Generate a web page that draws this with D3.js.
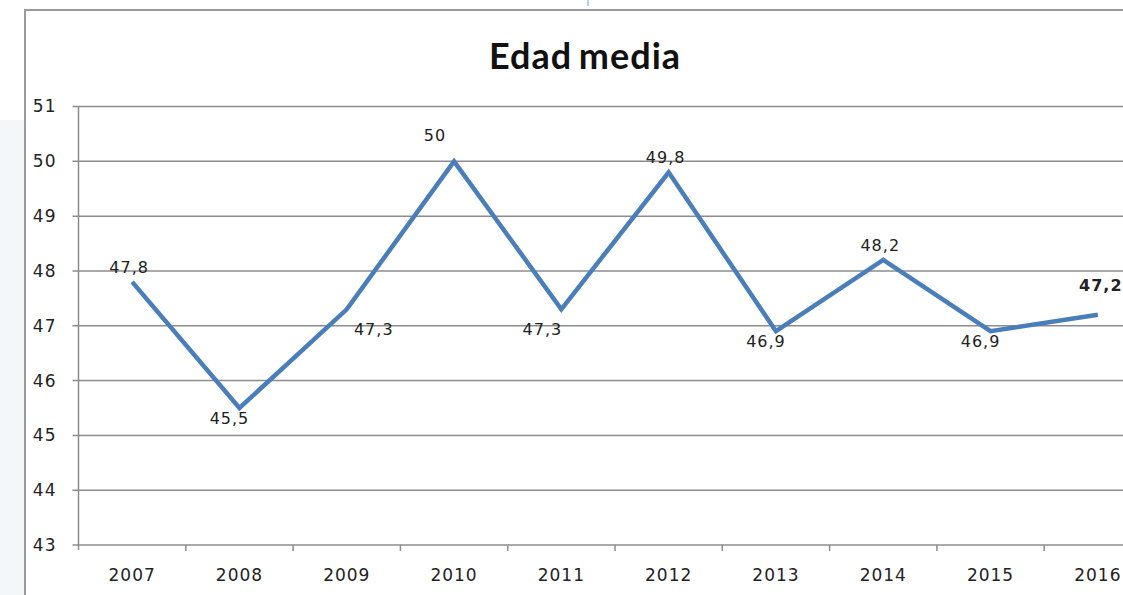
<!DOCTYPE html>
<html>
<head>
<meta charset="utf-8">
<script src="https://cdn.jsdelivr.net/npm/d3@7"></script>
<style>
  body { margin: 0; background: #fff; }
  svg { display: block; }
</style>
</head>
<body>
<svg id="canvas" width="1123" height="595"></svg>
<script>
/********** Data *********/
var years = ["2007", "2008", "2009", "2010", "2011", "2012", "2013", "2014", "2015", "2016"];
var edad = [47.8, 45.5, 47.3, 50, 47.3, 49.8, 46.9, 48.2, 46.9, 47.2];
var yTicks = [43, 44, 45, 46, 47, 48, 49, 50, 51];
// where each value label sits relative to its point
var labelSide = ["above", "below", "belowRight", "aboveLeft", "belowLeft", "above", "below", "above", "below", "aboveBold"];

/********** Initialisation *********/
var svg = d3.select("#canvas");
var width = +svg.attr("width");
var height = +svg.attr("height");

var left = 78.5, bw = 107.3;
var x = d3.scaleBand()
    .domain(years)
    .range([left, left + bw * years.length]);
var y = d3.scaleLinear()
    .domain([43, 51])
    .range([545, 106.5]);

// pale strip outside the chart frame
svg.append("rect")
    .attr("x", 0).attr("y", 120)
    .attr("width", 24).attr("height", height - 120)
    .attr("fill", "#f3f7fa");
svg.append("line")
    .attr("x1", 588).attr("x2", 588)
    .attr("y1", 0).attr("y2", 6)
    .attr("stroke", "#9cc3e6").attr("stroke-width", 1.5);

// chart frame
svg.append("rect")
    .attr("x", 25).attr("y", 10)
    .attr("width", width + 10).attr("height", height + 10)
    .attr("fill", "none")
    .attr("stroke", "#9a9a9a")
    .attr("stroke-width", 2);

/********** Title *********/
svg.append("text")
    .attr("x", 585).attr("y", 69)
    .attr("text-anchor", "middle")
    .attr("font-family", "Lato, 'Open Sans', sans-serif")
    .attr("font-weight", "bold")
    .attr("font-size", 36)
    .attr("letter-spacing", 1)
    .attr("word-spacing", -3)
    .attr("fill", "#111")
    .text("Edad media");

/********** Axes *********/
var grid = svg.append("g");
grid.selectAll("line")
    .data(yTicks)
    .enter()
    .append("line")
    .attr("x1", left - 6)
    .attr("x2", width)
    .attr("y1", function(d) { return y(d); })
    .attr("y2", function(d) { return y(d); })
    .attr("stroke", "#8c8c8c")
    .attr("stroke-width", 1.5);

svg.append("line")
    .attr("x1", left).attr("x2", left)
    .attr("y1", y(51)).attr("y2", y(43) + 5)
    .attr("stroke", "#8c8c8c").attr("stroke-width", 1.5);

var yAxis = svg.append("g")
    .attr("transform", "translate(" + (left - 8) + ",0)")
    .call(d3.axisLeft(y).tickValues(yTicks).tickSize(0).tickPadding(14));
yAxis.select(".domain").remove();

var xAxis = svg.append("g")
    .attr("transform", "translate(0," + y(43) + ")")
    .call(d3.axisBottom(x).tickSize(0).tickPadding(24));
xAxis.select(".domain").remove();

// ticks between categories
svg.append("g").selectAll("line")
    .data(years.slice(1))
    .enter()
    .append("line")
    .attr("x1", function(d) { return x(d); })
    .attr("x2", function(d) { return x(d); })
    .attr("y1", y(43)).attr("y2", y(43) + 6)
    .attr("stroke", "#8c8c8c").attr("stroke-width", 1.5);

svg.selectAll(".tick text")
    .attr("font-family", "'DejaVu Sans', sans-serif")
    .attr("font-size", 17)
    .attr("letter-spacing", 1)
    .attr("fill", "#222");

/********** Line *********/
var points = years.map(function(d, i) { return { year: d, v: edad[i], side: labelSide[i] }; });

var line = d3.line()
    .x(function(d) { return x(d.year) + x.bandwidth() / 2; })
    .y(function(d) { return y(d.v); });

svg.append("path")
    .datum(points)
    .attr("d", line)
    .attr("fill", "none")
    .attr("stroke", "#4a7ebb")
    .attr("stroke-width", 4.5)
    .attr("stroke-linejoin", "miter");

/********** Value labels *********/
var offsets = {
    above:      [-3, -9],
    below:      [-10, 16],
    belowRight: [27, 26],
    aboveLeft:  [-19, -20],
    belowLeft:  [-19, 26],
    aboveBold:  [3, -24]
};

svg.append("g").selectAll("text")
    .data(points)
    .enter()
    .append("text")
    .attr("x", function(d) { return x(d.year) + x.bandwidth() / 2 + offsets[d.side][0]; })
    .attr("y", function(d) { return y(d.v) + offsets[d.side][1]; })
    .attr("text-anchor", "middle")
    .attr("font-family", "'DejaVu Sans', sans-serif")
    .attr("font-size", 16)
    .attr("letter-spacing", 1)
    .attr("font-weight", function(d) { return d.side == "aboveBold" ? "bold" : "normal"; })
    .attr("fill", "#222")
    .text(function(d) { return String(d.v).replace(".", ","); });
</script>
</body>
</html>
